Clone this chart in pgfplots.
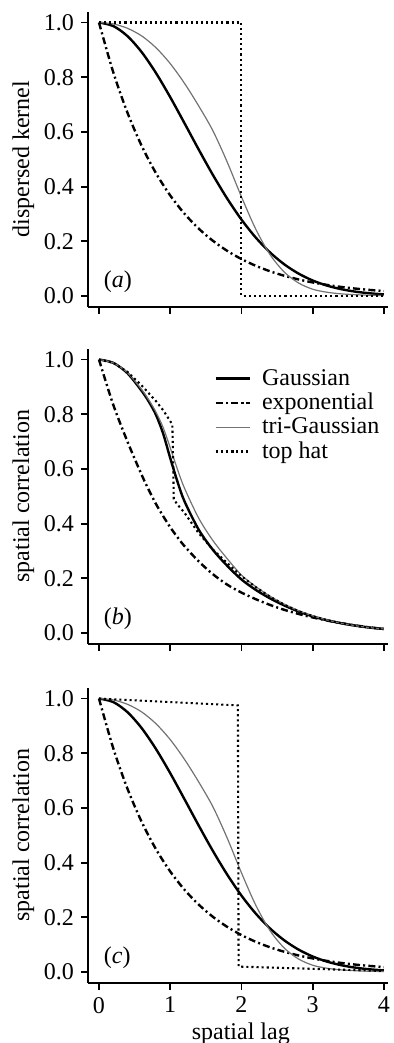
\documentclass[border=0pt]{standalone}
\usepackage{fontspec}
\setmainfont{Liberation Serif}
\usepackage{pgfplots}
\usepackage{pgfplotstable}
\pgfplotsset{compat=1.18}

% panel (a) and (c): x, Gaussian, exponential, tri-Gaussian
\pgfplotstableread{
x gau expo tri
0.0 1.0000 1.0000 1.000
0.2 0.9873 0.8187 0.995
0.4 0.9503 0.6703 0.979
0.6 0.8917 0.5488 0.951
0.8 0.8156 0.4493 0.908
1.0 0.7273 0.3679 0.850
1.2 0.6322 0.3012 0.778
1.4 0.5357 0.2466 0.695
1.6 0.4425 0.2019 0.604
1.8 0.3564 0.1653 0.490
2.0 0.2797 0.1353 0.363
2.2 0.2141 0.1108 0.245
2.4 0.1597 0.0907 0.152
2.6 0.1162 0.0743 0.088
2.8 0.0824 0.0608 0.048
3.0 0.0569 0.0498 0.025
3.2 0.0383 0.0408 0.014
3.4 0.0252 0.0334 0.008
3.6 0.0161 0.0273 0.005
3.8 0.0101 0.0224 0.003
4.0 0.0061 0.0183 0.002
}\kernel

% panel (b)
\pgfplotstableread{
x gau expo tri
0.0 1.000 1.000 1.000
0.2 0.988 0.835 0.988
0.4 0.950 0.700 0.952
0.6 0.885 0.578 0.890
0.7 0.846 0.523 0.852
0.8 0.798 0.472 0.808
0.9 0.730 0.428 0.752
1.0 0.640 0.387 0.678
1.1 0.555 0.351 0.600
1.2 0.482 0.318 0.530
1.4 0.378 0.262 0.420
1.6 0.304 0.215 0.338
1.8 0.246 0.177 0.272
2.0 0.196 0.148 0.212
2.2 0.158 0.124 0.170
2.4 0.127 0.103 0.135
2.6 0.101 0.085 0.106
2.8 0.079 0.070 0.082
3.0 0.061 0.057 0.063
3.2 0.047 0.046 0.048
3.4 0.036 0.036 0.036
3.6 0.027 0.028 0.027
3.8 0.020 0.021 0.020
4.0 0.015 0.015 0.015
}\corrB

\pgfplotstableread{
x y
0.00 1.000
0.20 0.988
0.40 0.955
0.60 0.905
0.80 0.848
0.90 0.815
1.00 0.775
1.03 0.762
1.04 0.640
1.05 0.490
1.10 0.470
1.20 0.440
1.40 0.365
1.60 0.305
1.80 0.256
2.00 0.208
2.20 0.168
2.40 0.133
2.60 0.104
2.80 0.080
3.00 0.062
3.20 0.047
3.40 0.036
3.60 0.027
3.80 0.020
4.00 0.015
}\tophatB

\pgfplotstableread{
x y
0 1
2 1
2 0
4 0
}\tophatA

\pgfplotstableread{
x y
0.00 1.000
1.95 0.975
1.96 0.020
4.00 0.004
}\tophatC

\newcommand{\myfont}{\fontsize{12}{14}\selectfont}

\pgfplotsset{
  panel/.style={
    scale only axis, width=150.1pt, height=147.7pt,
    xmin=-0.154, xmax=4.06, ymin=-0.04, ymax=1.04,
    axis lines*=left,
    axis line style={line width=1.1pt, -},
    xtick={0,1,2,3,4},
    ytick={0,0.2,0.4,0.6,0.8,1.0},
    tick align=outside,
    major tick length=3.5pt,
    tick style={line width=0.9pt, black},
    yticklabel style={/pgf/number format/.cd, fixed, fixed zerofill, precision=1},
    /pgf/number format/assume math mode=true,
    font=\myfont,
    ticklabel style={font=\myfont},
    label style={font=\myfont},
    ylabel style={at={(axis description cs:-0.178,0.5)}, anchor=south, inner sep=0pt, rotate=0},
  },
  gau/.style={black, line width=1.2pt, smooth},
  expo/.style={black, line width=1.2pt, dash pattern=on 3.5pt off 1.6pt on 1pt off 1.6pt, smooth},
  tri/.style={black!55, line width=0.6pt, smooth},
  tophat/.style={black, line width=1.05pt, dash pattern=on 1.05pt off 1.5pt},
}

\begin{document}
\begin{tikzpicture}
\useasboundingbox (-44pt,-368pt) rectangle (153pt,153.5pt);

% (a)
\begin{axis}[panel, at={(0pt,0pt)}, anchor=south west,
  xticklabels={}, ylabel={dispersed kernel}]
\addplot[gau] table[x=x, y=gau] {\kernel};
\addplot[expo] table[x=x, y=expo] {\kernel};
\addplot[tri] table[x=x, y=tri] {\kernel};
\addplot[tophat] table[x=x, y=y] {\tophatA};
\node[anchor=base west, font=\myfont] at (axis cs:-0.03,0.03) {(\textit{a})};
\end{axis}

% (b)
\begin{axis}[panel, at={(0pt,-168.5pt)}, anchor=south west,
  xticklabels={}, ylabel={spatial correlation},
  legend style={draw=none, fill=none, at={(0.42,0.945)}, anchor=north west,
    font=\myfont, row sep=-1.5pt, inner sep=0pt,
    /tikz/every odd column/.append style={column sep=3.5pt}},
  legend cell align=left]
\addplot[gau] table[x=x, y=gau] {\corrB};
\addlegendentry{Gaussian}
\addplot[expo] table[x=x, y=expo] {\corrB};
\addlegendentry{exponential}
\addplot[tri] table[x=x, y=tri] {\corrB};
\addlegendentry{tri-Gaussian}
\addplot[tophat] table[x=x, y=y] {\tophatB};
\addlegendentry{top hat}
\node[anchor=base west, font=\myfont] at (axis cs:-0.03,0.03) {(\textit{b})};
\end{axis}

% (c)
\begin{axis}[panel, at={(0pt,-338pt)}, anchor=south west,
  ylabel={spatial correlation}, xlabel={spatial lag},
  xlabel style={at={(axis description cs:0.509,-0.19)}, anchor=base}]
\addplot[gau] table[x=x, y=gau] {\kernel};
\addplot[expo] table[x=x, y=expo] {\kernel};
\addplot[tri] table[x=x, y=tri] {\kernel};
\addplot[tophat] table[x=x, y=y] {\tophatC};
\node[anchor=base west, font=\myfont] at (axis cs:-0.03,0.03) {(\textit{c})};
\end{axis}
\end{tikzpicture}
\end{document}
